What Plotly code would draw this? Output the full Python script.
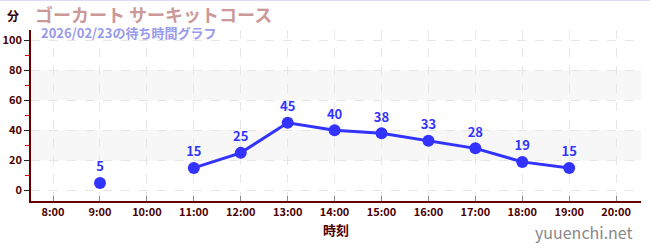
import plotly.graph_objects as go

hours = [8, 9, 10, 11, 12, 13, 14, 15, 16, 17, 18, 19, 20]
tick_labels = ["8:00", "9:00", "10:00", "11:00", "12:00", "13:00", "14:00",
               "15:00", "16:00", "17:00", "18:00", "19:00", "20:00"]
wait_x = [9, 10, 11, 12, 13, 14, 15, 16, 17, 18, 19]
wait_min = [5, None, 15, 25, 45, 40, 38, 33, 28, 19, 15]

title = "ゴーカート サーキットコース"
subtitle = "2026/02/23の待ち時間グラフ"
unit = "分"
xtitle = "時刻"
credit = "yuuenchi.net"

FONT = "Noto Sans CJK JP"
L, R, T, B = 31, 9, 30, 49
W, H = 650, 250
PW, PH = W - L - R, H - T - B

def px(x):
    return (x - L) / PW

def py(y):
    return (H - B - y) / PH

fig = go.Figure()
fig.add_trace(go.Scatter(
    x=wait_x, y=wait_min,
    mode="lines+markers+text",
    connectgaps=False,
    line=dict(color="#3333ff", width=3),
    marker=dict(color="#3333ff", size=12),
    text=[None if v is None else str(v) for v in wait_min],
    textposition="top center",
    textfont=dict(color="#3333ff", size=13, family=FONT, weight="bold"),
    hoverinfo="skip",
    cliponaxis=False,
))

shapes = []
for lo, hi in [(20, 40), (60, 80)]:
    shapes.append(dict(type="rect", xref="paper", yref="y", x0=0, x1=1, y0=lo, y1=hi,
                       fillcolor="#f7f7f7", line=dict(width=0), layer="below"))
shapes.append(dict(type="line", xref="paper", yref="paper", x0=px(0), x1=px(W),
                   y0=py(0.5), y1=py(0.5), line=dict(color="#dcdcf4", width=1)))

fig.update_layout(
    width=W, height=H,
    margin=dict(l=L, r=R, t=T, b=B, autoexpand=False),
    paper_bgcolor="white", plot_bgcolor="white",
    showlegend=False,
    shapes=shapes,
    font=dict(family=FONT, color="#4a0000"),
    xaxis=dict(
        range=[7.53, 20.53], tickvals=hours, ticktext=tick_labels,
        showgrid=True, gridcolor="#e6e6e6", griddash="dash", gridwidth=1,
        showline=True, linecolor="#660000", linewidth=1.5,
        ticks="inside", ticklen=5, tickcolor="#888888",
        tickfont=dict(size=11, color="#4a0000", family=FONT, weight="bold"),
        title=dict(text=xtitle, font=dict(size=13, color="#4a0000", family=FONT, weight="bold"), standoff=8),
        zeroline=False, fixedrange=True, automargin=False,
    ),
    yaxis=dict(
        range=[-7, 106.7], tickvals=[0, 20, 40, 60, 80, 100],
        showgrid=True, gridcolor="#e6e6e6", griddash="dash", gridwidth=1,
        showline=True, linecolor="#660000", linewidth=1.5,
        ticks="outside", ticklen=5, tickcolor="#222222",
        minor=dict(tickvals=[10, 30, 50, 70, 90], ticks="outside", ticklen=4, tickcolor="#dd0000", showgrid=False),
        tickfont=dict(size=11, color="#4a0000", family=FONT, weight="bold"),
        zeroline=False, fixedrange=True, automargin=False,
    ),
    annotations=[
        dict(text=unit, xref="paper", yref="paper", x=px(13), y=py(16), xanchor="center", yanchor="middle",
             showarrow=False, font=dict(size=12, color="#330000", family=FONT, weight="bold")),
        dict(text=title, xref="paper", yref="paper", x=px(33), y=py(14), xanchor="left", yanchor="middle",
             showarrow=False, font=dict(size=18, color="#cc9999", family=FONT, weight="bold")),
        dict(text=subtitle, xref="paper", yref="paper", x=px(39), y=py(32), xanchor="left", yanchor="middle",
             showarrow=False, font=dict(size=13, color="#9999ee", family=FONT, weight="bold")),
        dict(text=credit, xref="paper", yref="paper", x=px(635), y=py(232), xanchor="right", yanchor="middle",
             showarrow=False, font=dict(size=16, color="#888888", family=FONT)),
    ],
)

fig.write_html("out.html")
